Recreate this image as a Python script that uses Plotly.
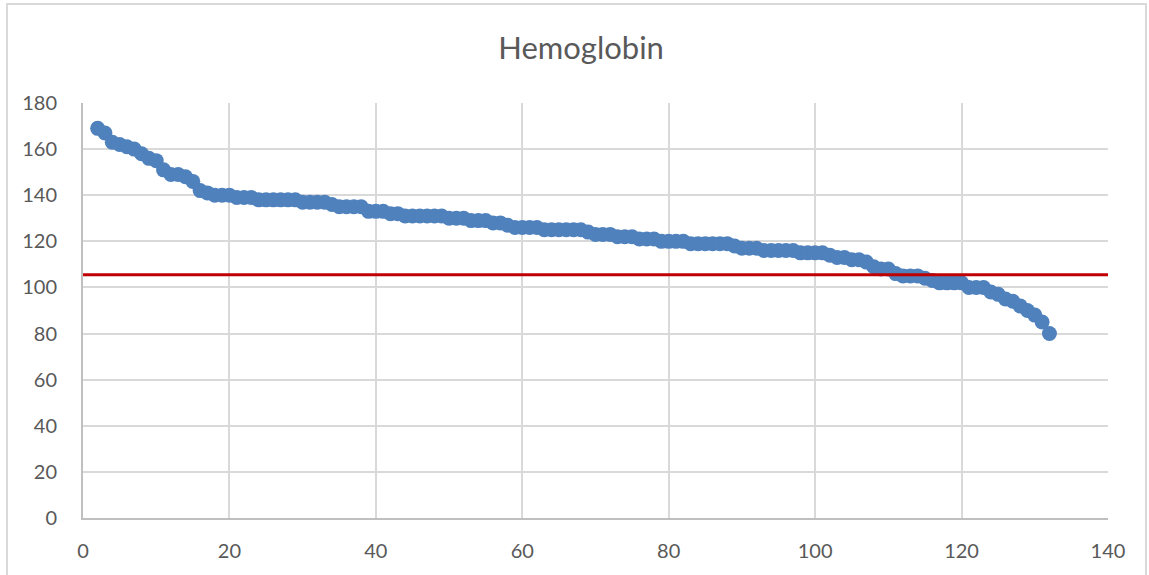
import plotly.graph_objects as go

x_index = list(range(2, 133))
hemoglobin = [
    169, 167, 163, 162, 161, 160, 158, 156, 155, 151,
    149, 149, 148, 146, 142, 141, 140, 140, 140, 139,
    139, 139, 138, 138, 138, 138, 138, 138, 137, 137,
    137, 137, 136, 135, 135, 135, 135, 133, 133, 133,
    132, 132, 131, 131, 131, 131, 131, 131, 130, 130,
    130, 129, 129, 129, 128, 128, 127, 126, 126, 126,
    126, 125, 125, 125, 125, 125, 125, 124, 123, 123,
    123, 122, 122, 122, 121, 121, 121, 120, 120, 120,
    120, 119, 119, 119, 119, 119, 119, 118, 117, 117,
    117, 116, 116, 116, 116, 116, 115, 115, 115, 115,
    114, 113, 113, 112, 112, 111, 109, 108, 108, 106,
    105, 105, 105, 104, 103, 102, 102, 102, 102, 100,
    100, 100, 98, 97, 95, 94, 92, 90, 88, 85,
    80,
]
threshold_x = [0, 140]
threshold_y = [105.5, 105.5]

x_ticks = [0, 20, 40, 60, 80, 100, 120, 140]
y_ticks = [0, 20, 40, 60, 80, 100, 120, 140, 160, 180]

FONT = "Lato, 'Open Sans', sans-serif"
TXT = "#595959"

fig = go.Figure()
fig.add_trace(go.Scatter(
    x=x_index, y=hemoglobin, mode="markers",
    marker=dict(color="#4F81BD", size=15, line=dict(width=0)),
    showlegend=False,
))
fig.add_trace(go.Scatter(
    x=threshold_x, y=threshold_y, mode="lines",
    line=dict(color="#C00000", width=3),
    showlegend=False,
))

fig.update_layout(
    width=1149, height=575,
    margin=dict(l=83, r=41, t=103, b=57),
    paper_bgcolor="white", plot_bgcolor="white",
    font=dict(family=FONT, color=TXT, size=20),
    title=dict(text="Hemoglobin", x=0.5057, xanchor="center", y=0.9165, yanchor="middle",
               font=dict(family=FONT, size=31, color=TXT)),
    xaxis=dict(range=[0, 140], tickvals=x_ticks, showgrid=True, gridcolor="#D9D9D9", gridwidth=2,
               showline=True, linecolor="#BFBFBF", linewidth=2, zeroline=False,
               ticks="", ticklabelstandoff=14, tickfont=dict(size=20, color=TXT)),
    yaxis=dict(range=[0, 180], tickvals=y_ticks, showgrid=True, gridcolor="#D9D9D9", gridwidth=2,
               showline=True, linecolor="#BFBFBF", linewidth=2, zeroline=False,
               ticks="", ticklabelstandoff=20, tickfont=dict(size=20, color=TXT)),
    shapes=[dict(type="rect", xref="paper", yref="paper",
                 x0=-0.0741, x1=1.0371, y0=-0.3, y1=1.2386,
                 line=dict(color="#D9D9D9", width=2), fillcolor="rgba(0,0,0,0)", layer="below")],
)

fig.write_html("out.html")
